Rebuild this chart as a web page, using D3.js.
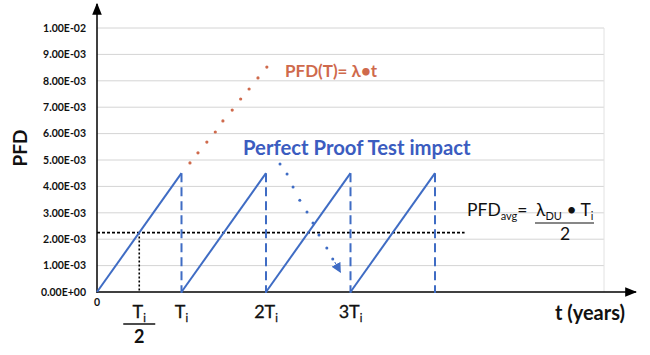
<!DOCTYPE html>
<html><head><meta charset="utf-8">
<script src="https://cdn.jsdelivr.net/npm/d3@7"></script>
<style>
html,body{margin:0;padding:0;background:#fff;}
svg{display:block;font-family:Lato,"Open Sans",sans-serif;}
</style></head>
<body><svg id="c" width="650" height="355"></svg>
<script>
// ---- data ----
const yTicks = [0,0.001,0.002,0.003,0.004,0.005,0.006,0.007,0.008,0.009,0.01];
const yTickLabels = ["0.00E+00","1.00E-03","2.00E-03","3.00E-03","4.00E-03","5.00E-03","6.00E-03","7.00E-03","8.00E-03","9.00E-03","1.00E-02"];
const periods = [0,1,2,3];           // proof test intervals (in Ti)
const peakPFD = 0.0045;              // PFD reached at end of each interval
const pfdAvg = 0.00225;
const xLabelPos = [1,2,3];
const xLabelText = ["","2","3"];
// red dotted extension PFD(T)=λ·t  [t in Ti, PFD]
const redT = [1.10,1.195,1.30,1.40,1.49,1.60,1.70,1.80,1.905,2.01];
const redV = [0.00489,0.00527,0.00568,0.00606,0.00648,0.00689,0.00731,0.00769,0.00811,0.00852];
// blue dotted arrow (proof test impact)
const blueT = [2.166,2.249,2.32,2.40,2.485,2.556,2.627,2.72,2.79];
const blueV = [0.00485,0.00447,0.00398,0.00348,0.00303,0.00261,0.00216,0.00167,0.00125];
const blueArrowTip = [2.88,0.00075];

const svg = d3.select("#c");
const x = d3.scaleLinear().domain([0,6]).range([97,604]);
const y = d3.scaleLinear().domain([0,0.01]).range([292,28]);
const blue = "#3f6cc4", red = "#cf6a4c";

// grid
const grid = svg.append("g");
grid.selectAll("line").data(yTicks.slice(1)).join("line")
  .attr("x1",x(0)).attr("x2",x(6)).attr("y1",d=>y(d)).attr("y2",d=>y(d))
  .attr("stroke","#d4d4d4").attr("stroke-width",1);
grid.append("line").attr("x1",x(6)).attr("x2",x(6)).attr("y1",y(0.01)).attr("y2",y(0))
  .attr("stroke","#e2e2e2");

// y axis labels via d3 axis
const yAxis = d3.axisLeft(y).tickValues(yTicks).tickFormat((d,i)=>yTickLabels[i]).tickSize(0).tickPadding(11);
const ya = svg.append("g").attr("transform",`translate(${x(0)},0)`).call(yAxis);
ya.select(".domain").remove();
ya.selectAll("text").attr("font-family","Lato,sans-serif").attr("font-weight","bold").attr("font-size","10.5px").attr("fill","#111");

// axes lines with arrows
const defs = svg.append("defs");
defs.append("marker").attr("id","arr").attr("viewBox","0 0 10 10").attr("refX",9).attr("refY",5)
  .attr("markerWidth",12).attr("markerHeight",12).attr("markerUnits","userSpaceOnUse").attr("orient","auto")
  .append("path").attr("d","M0,1 L10,5 L0,9 Z").attr("fill","#000");
defs.append("marker").attr("id","barr").attr("viewBox","0 0 10 10").attr("refX",9).attr("refY",5)
  .attr("markerWidth",10).attr("markerHeight",10).attr("markerUnits","userSpaceOnUse").attr("orient","auto")
  .append("path").attr("d","M0,0 L10,5 L0,10 Z").attr("fill",blue);

svg.append("line").attr("x1",x(0)).attr("x2",x(0)).attr("y1",y(0)+1).attr("y2",4)
  .attr("stroke","#000").attr("stroke-width",1.5).attr("marker-end","url(#arr)");
svg.append("line").attr("x1",x(0)).attr("x2",636).attr("y1",y(0)).attr("y2",y(0))
  .attr("stroke","#000").attr("stroke-width",1.5).attr("marker-end","url(#arr)");

// PFDavg dashed line
svg.append("line").attr("x1",x(0)).attr("x2",x(4.35)).attr("y1",y(pfdAvg)).attr("y2",y(pfdAvg))
  .attr("stroke","#000").attr("stroke-width",1.6).attr("stroke-dasharray","3,2");
svg.append("line").attr("x1",x(0.5)).attr("x2",x(0.5)).attr("y1",y(pfdAvg)).attr("y2",y(0))
  .attr("stroke","#000").attr("stroke-width",1.6).attr("stroke-dasharray","2,2");

// saw tooth
svg.append("g").selectAll("line").data(periods).join("line")
  .attr("x1",d=>x(d)).attr("y1",y(0)).attr("x2",d=>x(d+1)).attr("y2",y(peakPFD))
  .attr("stroke",blue).attr("stroke-width",2);
svg.append("g").selectAll("line").data(periods).join("line")
  .attr("x1",d=>x(d+1)).attr("x2",d=>x(d+1)).attr("y1",y(peakPFD)).attr("y2",y(0)+1)
  .attr("stroke",blue).attr("stroke-width",2).attr("stroke-dasharray","9,5");

// red dotted
svg.append("g").selectAll("circle").data(redT).join("circle")
  .attr("cx",d=>x(d)).attr("cy",(d,i)=>y(redV[i])).attr("r",1.6).attr("fill",red);
// blue dotted
svg.append("g").selectAll("circle").data(blueT).join("circle")
  .attr("cx",d=>x(d)).attr("cy",(d,i)=>y(blueV[i])).attr("r",1.5).attr("fill",blue);
const last = blueT.length-1;
svg.append("line").attr("x1",x(blueT[last])+2).attr("y1",y(blueV[last])+3)
  .attr("x2",x(blueArrowTip[0])).attr("y2",y(blueArrowTip[1]))
  .attr("stroke",blue).attr("stroke-width",1).attr("marker-end","url(#barr)");

// texts
const T = (xx,yy,txt,opts={})=>{
  const t = svg.append("text").attr("x",xx).attr("y",yy).text(txt)
    .attr("font-size",opts.size||"17px").attr("font-weight",opts.weight||"normal")
    .attr("fill",opts.fill||"#111").attr("text-anchor",opts.anchor||"start");
  if(opts.family) t.attr("font-family",opts.family);
  return t;
};
T(285,77,"PFD(T)= λ•t",{size:"17px",weight:"bold",fill:red});
T(243,155,"Perfect Proof Test impact",{size:"20.3px",weight:"bold",fill:"#3b5cc0"});
T(x(0),306,"0",{size:"10.5px",weight:"bold",anchor:"middle"});
T(625,320,"t (years)",{size:"20px",weight:"bold",anchor:"end"});
svg.append("text").attr("transform","translate(27,148) rotate(-90)").attr("text-anchor","middle")
  .attr("font-size","19px").attr("font-weight","bold").attr("fill","#111").text("PFD");

// x labels Ti, 2Ti, 3Ti
xLabelPos.forEach((p,i)=>{
  const t = svg.append("text").attr("x",x(p)).attr("y",318).attr("text-anchor","middle")
    .attr("font-size","18px").attr("fill","#111").attr("stroke","#111").attr("stroke-width",0.3);
  t.append("tspan").text(xLabelText[i]+"T");
  t.append("tspan").attr("font-size","11px").attr("dy",4).text("i");
});
// Ti/2 fraction
{
  const t = svg.append("text").attr("x",x(0.5)).attr("y",318).attr("text-anchor","middle")
    .attr("font-size","18px").attr("fill","#111").attr("stroke","#111").attr("stroke-width",0.3);
  t.append("tspan").text("T");
  t.append("tspan").attr("font-size","11px").attr("dy",4).text("i");
  svg.append("line").attr("x1",x(0.5)-16).attr("x2",x(0.5)+16).attr("y1",324).attr("y2",324)
    .attr("stroke","#111").attr("stroke-width",1.3);
  T(x(0.5),343,"2",{size:"18px",weight:"bold",anchor:"middle"});
}
// PFDavg formula
{
  const t = svg.append("text").attr("x",467).attr("y",216).attr("font-size","17.5px").attr("fill","#111");
  t.append("tspan").text("PFD");
  t.append("tspan").attr("font-size","11px").attr("dy",4).text("avg");
  t.append("tspan").attr("dy",-4).text("=");
  const n = svg.append("text").attr("x",536).attr("y",216).attr("font-size","17.5px").attr("fill","#111");
  n.append("tspan").text("λ");
  n.append("tspan").attr("font-size","11px").attr("dy",4).text("DU");
  n.append("tspan").attr("dy",-4).text(" • T");
  n.append("tspan").attr("font-size","11px").attr("dy",4).text("i");
  svg.append("line").attr("x1",535).attr("x2",594).attr("y1",223).attr("y2",223)
    .attr("stroke","#111").attr("stroke-width",1.2);
  T(565,240,"2",{size:"17.5px",anchor:"middle"});
}
</script></body></html>
